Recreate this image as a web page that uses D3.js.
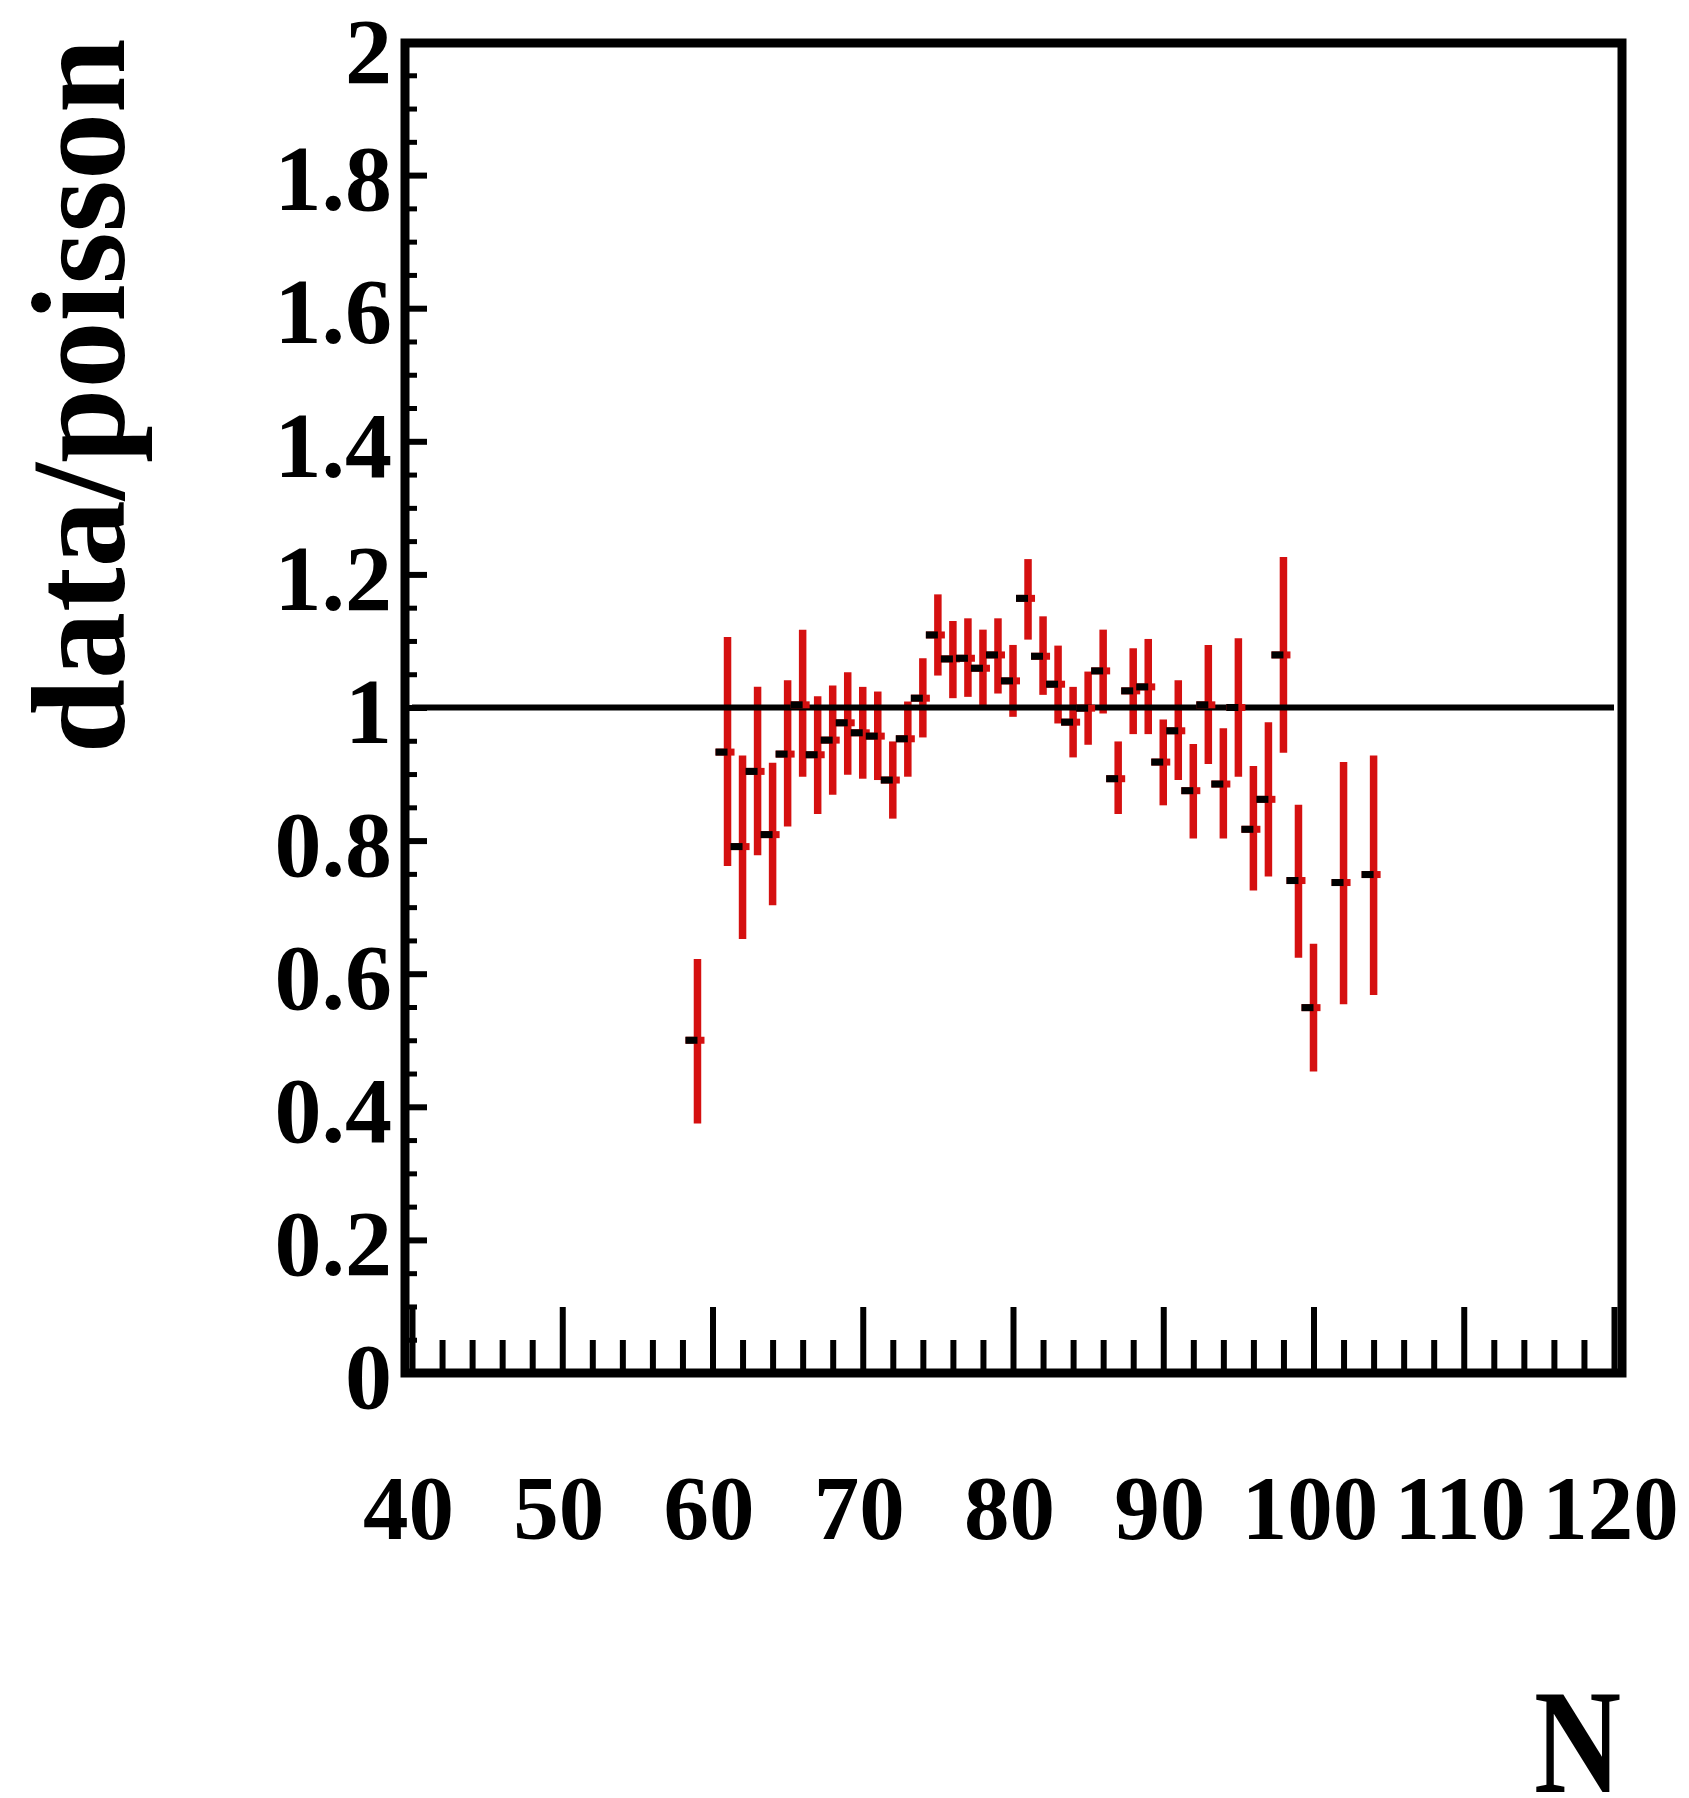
<!DOCTYPE html>
<html>
<head>
<meta charset="utf-8">
<script src="https://cdn.jsdelivr.net/npm/d3@7"></script>
<style>
  body { margin: 0; background: #ffffff; }
  svg { display: block; }
  text { font-family: "Liberation Serif", "Times New Roman", serif; font-weight: bold; fill: #000; }
</style>
</head>
<body>
<svg id="chart" width="1689" height="1798"></svg>
<script>
// ---- data ----
const N = [59, 61, 62, 63, 64, 65, 66, 67, 68, 69, 70, 71, 72, 73, 74, 75, 76, 77, 78, 79, 80,
           81, 82, 83, 84, 85, 86, 87, 88, 89, 90, 91, 92, 93, 94, 95, 96, 97, 98, 99, 100, 102, 104];
const ratio = [0.50, 0.933, 0.791, 0.904, 0.809, 0.930, 1.004, 0.929, 0.951, 0.977, 0.962, 0.957, 0.891,
               0.953, 1.014, 1.109, 1.073, 1.074, 1.059, 1.079, 1.040, 1.164, 1.077, 1.035, 0.978, 0.999,
               1.055, 0.893, 1.025, 1.031, 0.918, 0.965, 0.875, 1.004, 0.885, 1.000, 0.817, 0.862, 1.079,
               0.740, 0.549, 0.737, 0.749];
const lower = [0.375, 0.762, 0.652, 0.778, 0.703, 0.821, 0.896, 0.840, 0.869, 0.899, 0.893, 0.891, 0.833,
               0.896, 0.955, 1.048, 1.014, 1.016, 1.001, 1.021, 0.986, 1.102, 1.019, 0.976, 0.925, 0.944,
               0.991, 0.840, 0.960, 0.960, 0.853, 0.891, 0.803, 0.915, 0.803, 0.896, 0.725, 0.746, 0.932,
               0.624, 0.453, 0.554, 0.568];
const upper = [0.622, 1.106, 0.928, 1.031, 0.917, 1.041, 1.117, 1.017, 1.033, 1.053, 1.031, 1.024, 0.949,
               1.009, 1.074, 1.170, 1.130, 1.134, 1.117, 1.134, 1.094, 1.223, 1.137, 1.093, 1.031, 1.054,
               1.117, 0.949, 1.089, 1.103, 0.982, 1.041, 0.945, 1.094, 0.969, 1.104, 0.912, 0.978, 1.226,
               0.854, 0.645, 0.918, 0.928];
const xTickValues = [40, 50, 60, 70, 80, 90, 100, 110, 120];
const xTickLabels = ["40", "50", "60", "70", "80", "90", "100", "110", "120"];
const yTickValues = [0, 0.2, 0.4, 0.6, 0.8, 1, 1.2, 1.4, 1.6, 1.8, 2];
const yTickLabels = ["0", "0.2", "0.4", "0.6", "0.8", "1", "1.2", "1.4", "1.6", "1.8", "2"];
const referenceLevel = 1;
const xTitle = "N";
const yTitle = "data/poisson";

// ---- layout ----
const svg = d3.select("#chart");
const frame = { left: 405, right: 1622, top: 43, bottom: 1373 };
const x = d3.scaleLinear().domain([40, 120]).range([412, 1614]);
const y = d3.scaleLinear().domain([0, 2]).range([1373, 42]);
const red = "#d51010";

const points = N.map((n, i) => ({ n, v: ratio[i], lo: lower[i], hi: upper[i] }));

// y ticks (inside, from left frame)
const yMinor = y.ticks(40).filter(v => !yTickValues.some(t => Math.abs(t - v) < 1e-6));
const gyMinor = svg.append("g").attr("transform", `translate(${frame.left},0)`)
  .call(d3.axisRight(y).tickValues(yMinor).tickSize(12).tickFormat(""));
gyMinor.select(".domain").remove();
gyMinor.selectAll("line").attr("stroke", "#000").attr("stroke-width", 5);

const gyMajor = svg.append("g").attr("transform", `translate(${frame.left},0)`)
  .call(d3.axisRight(y).tickValues(yTickValues).tickSize(22).tickFormat(""));
gyMajor.select(".domain").remove();
gyMajor.selectAll("line").attr("stroke", "#000").attr("stroke-width", 6);

// x ticks (inside, upward from bottom frame)
const xMinor = x.ticks(40).filter(v => !xTickValues.includes(v));
const gxMinor = svg.append("g").attr("transform", `translate(0,${frame.bottom})`)
  .call(d3.axisTop(x).tickValues(xMinor).tickSize(33).tickFormat(""));
gxMinor.select(".domain").remove();
gxMinor.selectAll("line").attr("stroke", "#000").attr("stroke-width", 6);

const gxMajor = svg.append("g").attr("transform", `translate(0,${frame.bottom})`)
  .call(d3.axisTop(x).tickValues(xTickValues).tickSize(66).tickFormat(""));
gxMajor.select(".domain").remove();
gxMajor.selectAll("line").attr("stroke", "#000").attr("stroke-width", 6);

// frame
svg.append("rect")
  .attr("x", frame.left).attr("y", frame.top)
  .attr("width", frame.right - frame.left).attr("height", frame.bottom - frame.top)
  .attr("fill", "none").attr("stroke", "#000").attr("stroke-width", 9);

// error bars
svg.append("g").selectAll("line.err").data(points).join("line")
  .attr("x1", d => x(d.n)).attr("x2", d => x(d.n))
  .attr("y1", d => y(d.hi)).attr("y2", d => y(d.lo))
  .attr("stroke", red).attr("stroke-width", 7.5);

// reference line at 1
svg.append("line")
  .attr("x1", x(40)).attr("x2", x(120))
  .attr("y1", y(referenceLevel)).attr("y2", y(referenceLevel))
  .attr("stroke", "#000").attr("stroke-width", 6);

// markers
const mk = svg.append("g");
mk.selectAll("rect.h").data(points).join("rect")
  .attr("x", d => x(d.n) - 12).attr("y", d => y(d.v) - 3.5)
  .attr("width", 19).attr("height", 7).attr("fill", red);
mk.selectAll("rect.m").data(points).join("rect")
  .attr("x", d => x(d.n) - 12).attr("y", d => y(d.v) - 3.5)
  .attr("width", 12).attr("height", 7).attr("fill", "#000");

// y tick labels
const gyLab = svg.append("g").attr("transform", `translate(${frame.left},0)`)
  .call(d3.axisLeft(y).tickValues(yTickValues).tickSize(0).tickPadding(13)
        .tickFormat((d, i) => yTickLabels[i]));
gyLab.select(".domain").remove();
gyLab.selectAll("text").attr("font-size", 94)
  .attr("dy", d => d === 2 ? "0.43em" : "0.37em")
  .style("font-family", "'Liberation Serif', serif").style("font-weight", "bold");

// x tick labels
const gxLab = svg.append("g").attr("transform", `translate(0,${frame.bottom})`)
  .call(d3.axisBottom(x).tickValues(xTickValues).tickSize(0).tickPadding(101)
        .tickFormat((d, i) => xTickLabels[i]));
gxLab.select(".domain").remove();
gxLab.selectAll("text").attr("font-size", 91).attr("dx", -4)
  .style("font-family", "'Liberation Serif', serif").style("font-weight", "bold");

// axis titles
svg.append("text")
  .attr("transform", "translate(124,396) rotate(-90)")
  .attr("text-anchor", "middle").attr("font-size", 134)
  .text(yTitle);
svg.append("text")
  .attr("transform", "translate(1621,1792) scale(0.9,1.1)")
  .attr("text-anchor", "end").attr("font-size", 134)
  .text(xTitle);
</script>
</body>
</html>
